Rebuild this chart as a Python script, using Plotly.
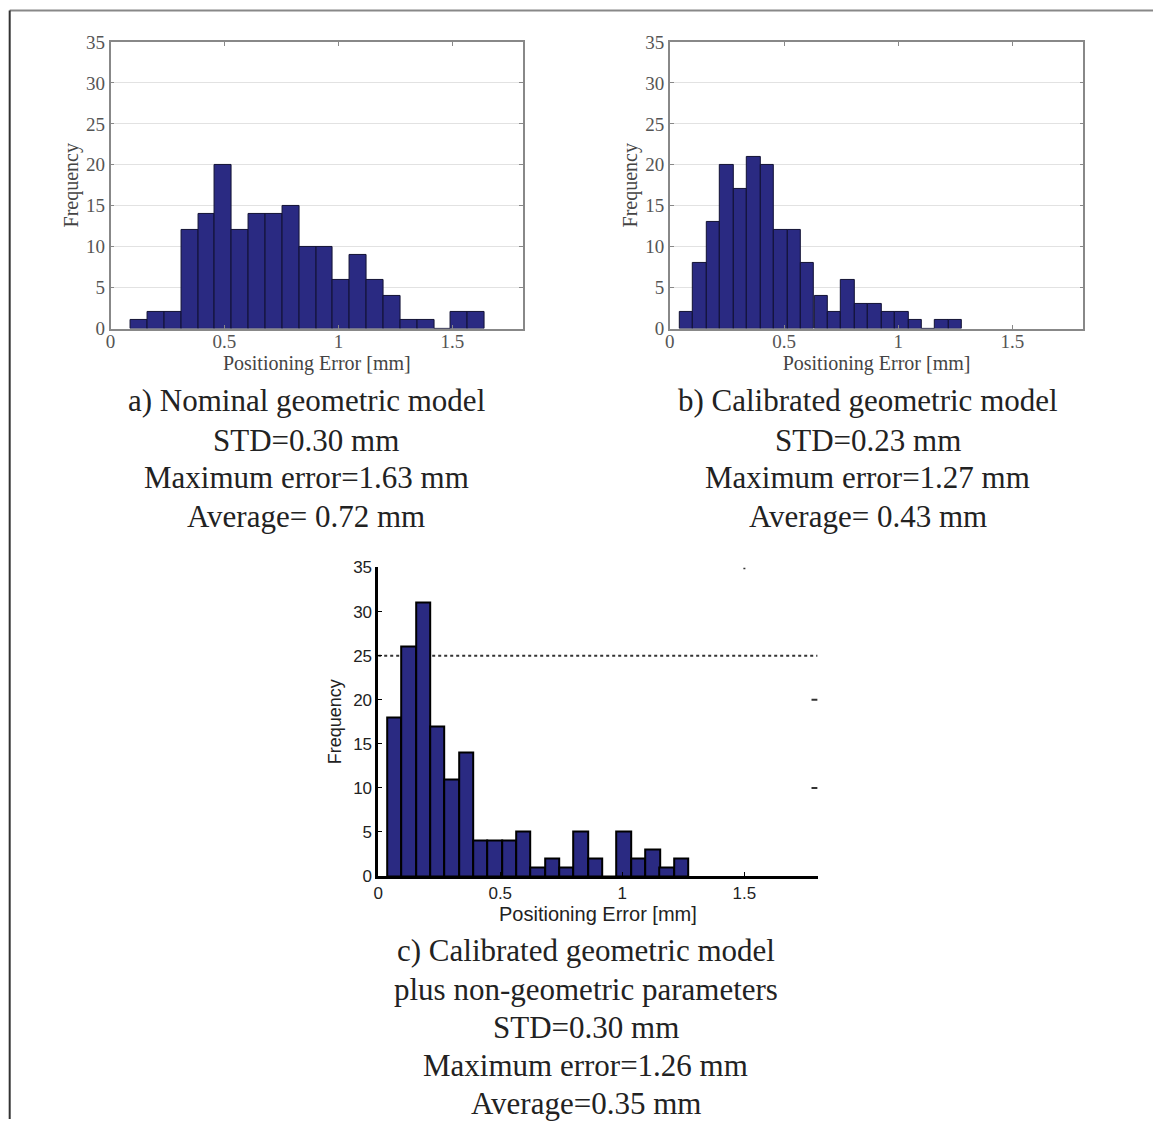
import plotly.graph_objects as go

W, H = 1153, 1130
# the captured picture maps figure pixel p to roughly OX + SX*p (x) and OY + SY*p (y);
# positions below are given in target-picture pixels and converted back through this map
SX, OX = 0.997, 3.3
SY, OY = 0.986, 7.9

# ---------------- data ----------------
a_centers = [0.125, 0.199, 0.273, 0.347, 0.421, 0.495, 0.569, 0.643, 0.717, 0.791, 0.865,
             0.939, 1.013, 1.087, 1.161, 1.235, 1.309, 1.383, 1.457, 1.531, 1.605]
a_counts = [1, 2, 2, 12, 14, 20, 12, 14, 14, 15, 10, 10, 6, 9, 6, 4, 1, 1, 0, 2, 2]
a_width = 0.074

b_centers = [0.073, 0.132, 0.191, 0.250, 0.309, 0.368, 0.426, 0.485, 0.544, 0.603, 0.662,
             0.721, 0.779, 0.838, 0.897, 0.956, 1.015, 1.074, 1.132, 1.191, 1.250]
b_counts = [2, 8, 13, 20, 17, 21, 20, 12, 12, 8, 4, 2, 6, 3, 3, 2, 2, 1, 0, 1, 1]
b_width = 0.0588

c_centers = [0.066, 0.125, 0.184, 0.242, 0.301, 0.360, 0.419, 0.477, 0.536, 0.595, 0.654,
             0.712, 0.771, 0.830, 0.889, 0.947, 1.006, 1.065, 1.124, 1.182, 1.241]
c_counts = [18, 26, 31, 17, 11, 14, 4, 4, 4, 5, 1, 2, 1, 5, 2, 0, 5, 2, 3, 1, 2]
c_width = 0.0587

x_ticks = [0, 0.5, 1, 1.5]
x_ticktext = ["0", "0.5", "1", "1.5"]
y_ticks = [0, 5, 10, 15, 20, 25, 30, 35]
y_ticktext = ["0", "5", "10", "15", "20", "25", "30", "35"]

x_title = "Positioning Error [mm]"
y_title = "Frequency"

caption_a = ["a) Nominal geometric model", "STD=0.30 mm", "Maximum error=1.63 mm", "Average= 0.72 mm"]
caption_b = ["b) Calibrated geometric model", "STD=0.23 mm", "Maximum error=1.27 mm", "Average= 0.43 mm"]
caption_c = ["c) Calibrated geometric model", "plus non-geometric parameters", "STD=0.30 mm",
             "Maximum error=1.26 mm", "Average=0.35 mm"]

# ---------------- style ----------------
BAR = "#2a2a82"
SERIF = "Liberation Serif, Times New Roman, serif"
SANS = "Liberation Sans, Arial, sans-serif"


def px_x(p):  # target pixel -> paper fraction
    return ((p - OX) / SX) / W


def px_y(p):
    return 1 - ((p - OY) / SY) / H


fig = go.Figure()
fig.add_trace(go.Bar(x=a_centers, y=a_counts, width=a_width, xaxis="x", yaxis="y",
                     marker=dict(color=BAR, line=dict(color="#111133", width=1)), showlegend=False))
fig.add_trace(go.Bar(x=b_centers, y=b_counts, width=b_width, xaxis="x2", yaxis="y2",
                     marker=dict(color=BAR, line=dict(color="#111133", width=1)), showlegend=False))
fig.add_trace(go.Bar(x=c_centers, y=c_counts, width=c_width, xaxis="x3", yaxis="y3",
                     marker=dict(color=BAR, line=dict(color="#000000", width=2)), showlegend=False))

common_ab_x = dict(range=[0, 1.81], tickvals=x_ticks, ticktext=x_ticktext, showgrid=False,
                   zeroline=False, showline=True, linecolor="#888", linewidth=1.5, mirror="ticks",
                   ticks="inside", ticklen=4, tickcolor="#888",
                   tickfont=dict(family=SERIF, size=19, color="#555"),
                   title=dict(text=x_title, font=dict(family=SERIF, size=20, color="#444"), standoff=0))
common_ab_y = dict(range=[0, 35], tickvals=y_ticks, ticktext=y_ticktext, showgrid=True,
                   gridcolor="#e2e2e2", gridwidth=1, zeroline=False, showline=True, linecolor="#888",
                   linewidth=1.5, mirror="ticks", ticks="inside", ticklen=4, tickcolor="#888",
                   tickfont=dict(family=SERIF, size=19, color="#555"),
                   title=dict(text=y_title, font=dict(family=SERIF, size=20, color="#444"), standoff=2))

fig.update_layout(
    width=W, height=H, margin=dict(l=0, r=0, t=0, b=0),
    paper_bgcolor="white", plot_bgcolor="white", bargap=0,
    xaxis=dict(domain=[px_x(109), px_x(522)], anchor="y", **common_ab_x),
    yaxis=dict(domain=[px_y(328), px_y(40)], anchor="x", **common_ab_y),
    xaxis2=dict(domain=[px_x(669), px_x(1083)], anchor="y2", **common_ab_x),
    yaxis2=dict(domain=[px_y(328), px_y(40)], anchor="x2", **common_ab_y),
    xaxis3=dict(domain=[px_x(377), px_x(817)], anchor="y3", range=[0, 1.8],
                tickvals=x_ticks, ticktext=x_ticktext, showgrid=False, zeroline=False,
                showline=True, linecolor="#000", linewidth=2.5, ticks="inside", ticklen=4,
                tickcolor="#000", tickfont=dict(family=SANS, size=17, color="#222"),
                title=dict(text=x_title, font=dict(family=SANS, size=20, color="#222"), standoff=2)),
    yaxis3=dict(domain=[px_y(878), px_y(568)], anchor="x3", range=[0, 35],
                tickvals=y_ticks, ticktext=y_ticktext, showgrid=False, zeroline=False,
                showline=True, linecolor="#000", linewidth=2.5, ticks="inside", ticklen=4,
                tickcolor="#000", tickfont=dict(family=SANS, size=17, color="#222"),
                title=dict(text=y_title, font=dict(family=SANS, size=18, color="#222"), standoff=7)),
)

# pull the x tick labels of panels a and b closer to the axis
try:
    fig.update_layout(xaxis_ticklabelstandoff=-5, xaxis2_ticklabelstandoff=-5)
except Exception:
    pass

# dotted reference line at 25 in panel c (behind bars)
fig.add_shape(type="line", xref="x3", yref="y3", x0=0, x1=1.8, y0=25, y1=25, layer="below",
              line=dict(color="#333", width=2, dash="dot"))
# small mirrored tick marks on the right / top of panel c
for tv in [20, 10]:
    fig.add_shape(type="line", xref="x3", yref="y3", x0=1.775, x1=1.8, y0=tv, y1=tv,
                  line=dict(color="#333", width=2))
fig.add_shape(type="line", xref="x3", yref="y3", x0=1.5, x1=1.5, y0=34.8, y1=35,
              line=dict(color="#333", width=2))

# page border lines (top and left)
fig.add_shape(type="line", xref="paper", yref="paper", x0=px_x(8), x1=1, y0=1 - 0.5 / H, y1=1 - 0.5 / H,
              line=dict(color="#888", width=2))
fig.add_shape(type="line", xref="paper", yref="paper", x0=px_x(8), x1=px_x(8), y0=0, y1=1 - 0.5 / H,
              line=dict(color="#333", width=2))


# captions
def add_caption(lines, cx, ys):
    for t, yy in zip(lines, ys):
        fig.add_annotation(text=t, xref="paper", yref="paper", x=px_x(cx), y=px_y(yy),
                           xanchor="center", yanchor="middle", showarrow=False,
                           font=dict(family=SERIF, size=31, color="#222"))


add_caption(caption_a, 305, [400, 440, 478, 517])
add_caption(caption_b, 867, [400, 440, 478, 517])
add_caption(caption_c, 585, [953, 992, 1030, 1068, 1107])

fig.write_html("out.html")
